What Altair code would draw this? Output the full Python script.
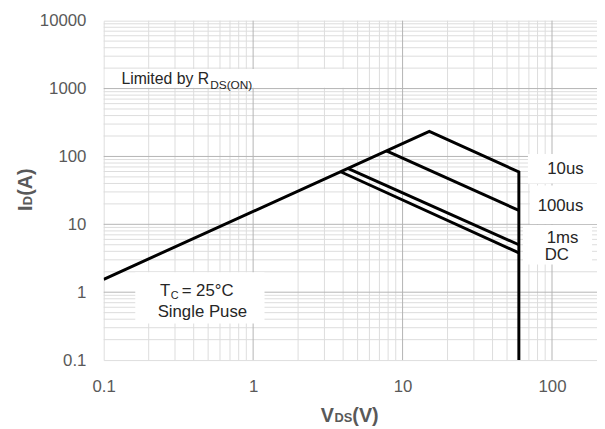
import altair as alt
import pandas as pd

# ---- data ----
series_names = ["10us", "10us", "10us", "10us", "100us", "100us", "1ms", "1ms", "DC", "DC"]
vds_values = [0.1, 15.1, 60, 60, 7.8, 60, 4.3, 60, 3.85, 60]
id_values = [1.55, 234, 59, 0.1, 121, 16, 66.6, 5.0, 59.5, 3.8]
point_order = [0, 1, 2, 3, 0, 1, 0, 1, 0, 1]

x_ticks = [0.1, 1, 10, 100]
y_ticks = [0.1, 1, 10, 100, 1000, 10000]
x_major_grid = [1, 10, 100]
x_minor_grid = [m * d for d in [0.1, 1, 10, 100] for m in range(2, 10) if m * d < 200]
y_major_grid = [1, 10, 100, 1000]
y_minor_grid = [m * d for d in [0.1, 1, 10, 100, 1000] for m in range(2, 10)]

curve_labels = ["10us", "100us", "1ms", "DC"]
note_limited = ["Limited by R", "DS(ON)"]
note_tc = ["T", "C", "= 25°C", "Single Puse"]
x_title = ["V", "DS", "(V)"]
y_title = ["I", "D", "(A)"]

W, H = 500, 344
FONT = "Liberation Sans"
GREY = "#595959"

df = pd.DataFrame({"V": vds_values, "I": id_values, "series": series_names, "o": point_order})

xs = alt.Scale(type="log", domain=[0.1, 200], nice=False)
ys = alt.Scale(type="log", domain=[0.1, 10000], nice=False)

x_axis = alt.Axis(values=x_ticks, format="~g", grid=False, ticks=False, domain=False,
                  labelFont=FONT, labelFontSize=17, labelColor=GREY, labelPadding=19,
                  title=None, labelFlush=False)
y_axis = alt.Axis(values=y_ticks, format="~g", grid=False, ticks=False, domain=False,
                  labelFont=FONT, labelFontSize=17, labelColor=GREY, labelPadding=18,
                  title=None)

def vrules(vals, color):
    return alt.Chart(pd.DataFrame({"V": vals})).mark_rule(color=color, strokeWidth=1).encode(
        x=alt.X("V:Q", scale=xs, axis=x_axis))

def hrules(vals, color):
    return alt.Chart(pd.DataFrame({"I": vals})).mark_rule(color=color, strokeWidth=1).encode(
        y=alt.Y("I:Q", scale=ys, axis=y_axis))

MINOR = "#dcdcdc"
MAJOR = "#b4b4b4"
grid = vrules(x_minor_grid, MINOR) + hrules(y_minor_grid, MINOR) + vrules(x_major_grid, MAJOR) + hrules(y_major_grid, MAJOR)

base_one = alt.Chart(pd.DataFrame({"a": [0]}))

def box(x1, x2, y1, y2):
    return base_one.mark_rect(color="white").encode(
        x=alt.value(x1), x2=alt.value(x2), y=alt.value(y1), y2=alt.value(y2))

boxes = (box(1, 255, 49, 68) + box(32, 163, 255, 307) + box(430, 500, 135, 165)
         + box(432, 500, 167, 206) + box(425, 495, 207, 247))

lines = alt.Chart(df).mark_line(color="black", strokeWidth=3, strokeJoin="miter", clip=True).encode(
    x=alt.X("V:Q", scale=xs, axis=x_axis),
    y=alt.Y("I:Q", scale=ys, axis=y_axis),
    detail="series:N",
    order="o:Q",
)

def txt(s, x, y, size=17, align="left", bold=False, angle=0, color="#262626"):
    kw = dict(text=s, fontSize=size, align=align, baseline="alphabetic", font=FONT, color=color)
    if bold:
        kw["fontWeight"] = "bold"
    if angle:
        kw["angle"] = angle
    return base_one.mark_text(**kw).encode(x=alt.value(x), y=alt.value(y))

texts = (
    txt(note_limited[0], 18, 64, 16)
    + txt(note_limited[1], 108, 69, 12)
    + txt(note_tc[0], 57, 279, 17)
    + txt(note_tc[1], 68, 282, 11)
    + txt(note_tc[2], 79, 279, 17)
    + txt(note_tc[3], 100, 300, 17, align="center")
    + txt(curve_labels[0], 468, 155, 17, align="center")
    + txt(curve_labels[1], 463, 193, 17, align="center")
    + txt(curve_labels[2], 465, 225, 17, align="center")
    + txt(curve_labels[3], 447, 243, 17)
    + txt(x_title[0], 220, 407, 20, bold=True, color=GREY)
    + txt(x_title[1], 234, 407, 13, bold=True, color=GREY)
    + txt(x_title[2], 252, 407, 20, bold=True, color=GREY)
    + txt(y_title[0], -73, 193, 20, bold=True, angle=270, color=GREY)
    + txt(y_title[1], -73, 187, 13, bold=True, angle=270, color=GREY)
    + txt(y_title[2], -73, 177.5, 20, bold=True, angle=270, color=GREY)
)

chart = alt.layer(grid, boxes, lines, texts).properties(
    width=W, height=H,
    autosize=alt.AutoSizeParams(type="none"),
    padding={"left": 97, "top": 10, "right": 0, "bottom": 67},
).configure_view(stroke="#a6a6a6", strokeWidth=1).configure(background="white")

chart.save("out.html", embed_options={"renderer": "svg", "actions": False})
